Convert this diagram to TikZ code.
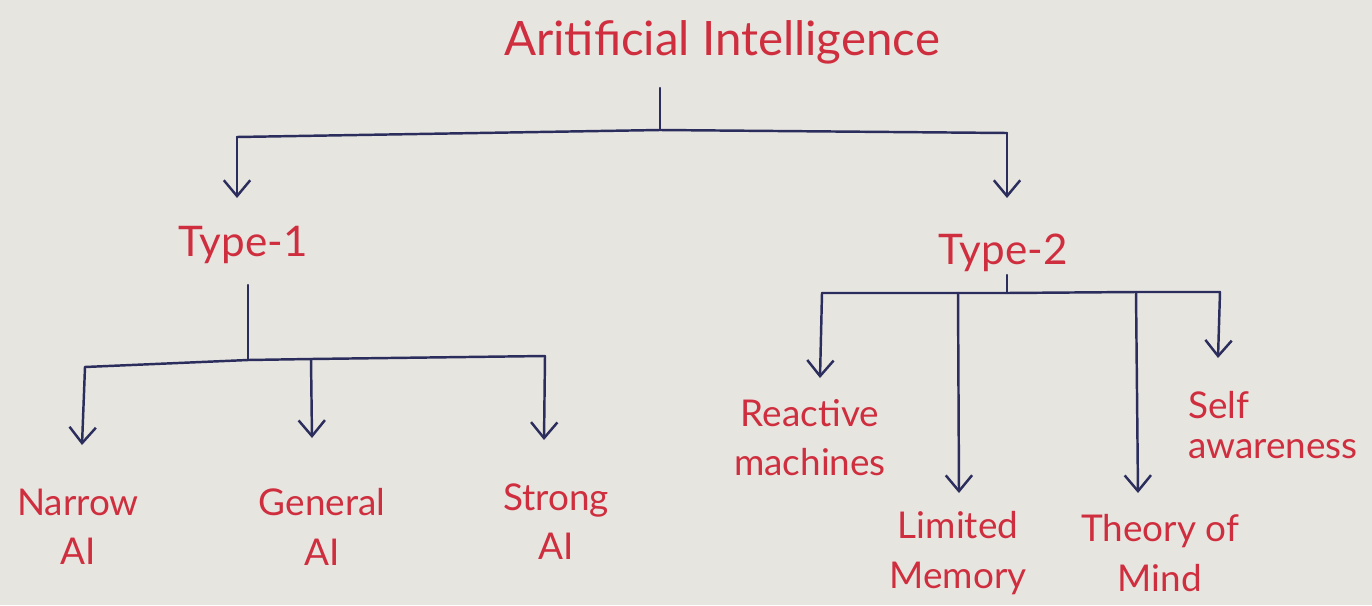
\documentclass[tikz,border=0pt]{standalone}
\usepackage{fontspec}
\setmainfont{Lato}
\usetikzlibrary{arrows.meta}
\definecolor{ink}{HTML}{2B2D5C}
\definecolor{pen}{HTML}{CF2E3E}
\definecolor{paper}{HTML}{E7E5E0}

\begin{document}
\begin{tikzpicture}[x=0.02cm,y=-0.02cm,
  link/.style={ink, line width=1.4pt, line cap=round, line join=round},
  arr/.style={link, -{Straight Barb[length=9pt,width=15pt]}},
  leaf/.style={pen, align=center, inner sep=0pt, font=\fontsize{21}{28}\selectfont},
  head/.style={pen, inner sep=0pt, font=\fontsize{24}{28}\selectfont}]
\fill[paper] (0,0) rectangle (1372,605);
\useasboundingbox (0,0) rectangle (1372,605);

% labels
\node[head, font=\fontsize{27}{30}\selectfont] (ai) at (722,42) {Aritificial Intelligence};
\node[head] (t1) at (243,245) {Type-1};
\node[head] (t2) at (1003,253) {Type-2};
\node[leaf] (narrow)   at (78,527)   {Narrow\\AI};
\node[leaf] (general)  at (322,527)  {General\\AI};
\node[leaf] (strong)   at (556,522)  {Strong\\AI};
\node[leaf] (reactive) at (810,438)  {Reactive\\machines};
\node[leaf] (limited)  at (958,553)  {Limited\\Memory};
\node[leaf] (theory)   at (1160,553) {Theory of\\Mind};
\node[leaf, align=left, anchor=west, font=\fontsize{21}{23}\selectfont]
  (self) at (1188,425) {Self\\awareness};

% junction points
\coordinate (aiTop)  at (660,88);
\coordinate (aiJoin) at (660,130);
\coordinate (aiL)    at (237,137);
\coordinate (aiR)    at (1007,133);
\coordinate (t1Tip)  at (237,198);
\coordinate (t2Tip)  at (1007,198);

\coordinate (t1Top)  at (248,285);
\coordinate (t1Join) at (248,360);
\coordinate (t1L)    at (85,367);
\coordinate (t1M)    at (311,359);
\coordinate (t1R)    at (545,356);
\coordinate (narrowTip)  at (82,445);
\coordinate (generalTip) at (312,438);
\coordinate (strongTip)  at (544,440);

\coordinate (t2Top)  at (1007,275);
\coordinate (t2Join) at (1007,293);
\coordinate (t2A)    at (822,293);
\coordinate (t2B)    at (958,293);
\coordinate (t2C)    at (1136,292);
\coordinate (t2D)    at (1220,292);
\coordinate (reactiveTip) at (820,378);
\coordinate (limitedTip)  at (959,493);
\coordinate (theoryTip)   at (1138,493);
\coordinate (selfTip)     at (1218,358);

% Artificial Intelligence branch
\draw[link] (aiTop) -- (aiJoin);
\draw[link] (aiL) -- (aiJoin) -- (aiR);
\draw[arr] (aiL) -- (t1Tip);
\draw[arr] (aiR) -- (t2Tip);

% Type-1 branch
\draw[link] (t1Top) -- (t1Join);
\draw[link] (t1L) -- (t1Join) -- (t1M) -- (t1R);
\draw[arr] (t1L) -- (narrowTip);
\draw[arr] (t1M) -- (generalTip);
\draw[arr] (t1R) -- (strongTip);

% Type-2 branch
\draw[link] (t2Top) -- (t2Join);
\draw[link] (t2A) -- (t2B) -- (t2Join) -- (t2C) -- (t2D);
\draw[arr] (t2A) -- (reactiveTip);
\draw[arr] (t2B) -- (limitedTip);
\draw[arr] (t2C) -- (theoryTip);
\draw[arr] (t2D) -- (selfTip);
\end{tikzpicture}
\end{document}
